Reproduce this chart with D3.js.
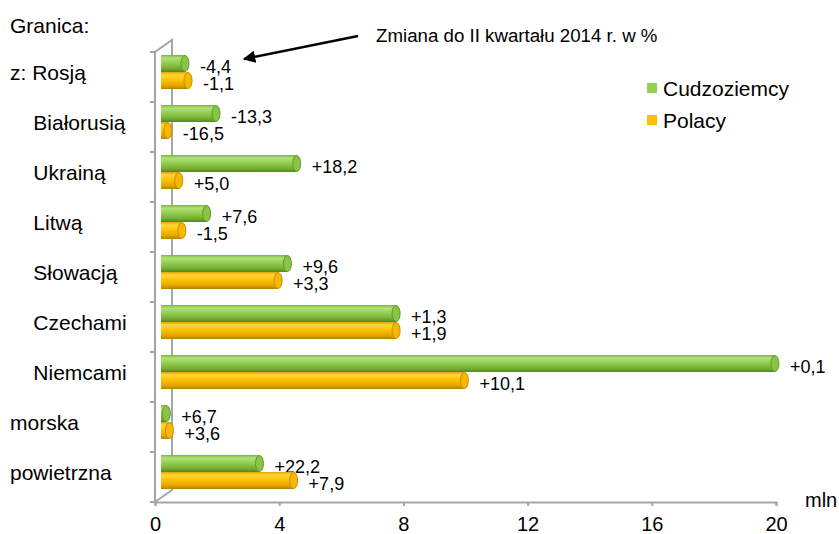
<!DOCTYPE html>
<html>
<head>
<meta charset="utf-8">
<script src="https://cdn.jsdelivr.net/npm/d3@7"></script>
<style>
  body { margin: 0; background: #fff; }
  text { font-family: "Liberation Sans", Arial, sans-serif; fill: #000; }
</style>
</head>
<body>
<div id="wrapper"></div>
<script>
// granice (etykiety z wcięciem jak w Excelu)
const categories = ["z: Rosją", "    Białorusią", "    Ukrainą", "    Litwą", "    Słowacją",
                    "    Czechami", "    Niemcami", "morska", "powietrzna"];
// mln osób
const foreigners = [0.9, 1.9, 4.5, 1.6, 4.2, 7.7, 19.9, 0.3, 3.3];
const poles      = [1.0, 0.35, 0.7, 0.8, 3.9, 7.7, 9.9, 0.4, 4.4];
// zmiana w %
const foreignersChange = [-4.4, -13.3, 18.2, 7.6, 9.6, 1.3, 0.1, 6.7, 22.2];
const polesChange      = [-1.1, -16.5, 5.0, -1.5, 3.3, 1.9, 10.1, 3.6, 7.9];
const xTicks = [0, 4, 8, 12, 16, 20];
const seriesNames = ["Cudzoziemcy", "Polacy"];

function buildPlot() {
    const width = 839, height = 534;
    const depth = { dx: 17, dy: -12 };
    const barShift = 6;

    const svg = d3.select("#wrapper").append("svg")
        .attr("width", width)
        .attr("height", height);

    const xScaler = d3.scaleLinear().domain([0, 20]).range([155, 776]);
    const yBand = d3.scaleBand().domain(categories).range([52, 502]);

    const defs = svg.append("defs");
    function grad(id, stops) {
        const g = defs.append("linearGradient").attr("id", id)
            .attr("x1", 0).attr("y1", 0).attr("x2", 0).attr("y2", 1);
        stops.forEach(s => g.append("stop").attr("offset", s[0]).attr("stop-color", s[1]));
    }
    grad("gGreen", [[0, "#7ab53c"], [0.18, "#b0e276"], [0.45, "#95cf54"], [0.8, "#74ad31"], [1, "#52891c"]]);
    grad("gYellow", [[0, "#e4a400"], [0.18, "#ffd640"], [0.45, "#ffc400"], [0.8, "#e3a400"], [1, "#b58200"]]);

    // ściany / osie
    const axisColor = "#a6a6a6";
    const x0 = xScaler(0), yTop = yBand.range()[0], yBot = yBand.range()[1];
    const walls = svg.append("g").attr("fill", "none").attr("stroke", axisColor).attr("stroke-width", 2);
    walls.append("path")
        .attr("d", `M${x0},${yTop} L${x0 + depth.dx},${yTop + depth.dy} L${x0 + depth.dx},${yBot + depth.dy} L${x0},${yBot}`);
    walls.append("line").attr("x1", x0).attr("x2", x0).attr("y1", yTop).attr("y2", yBot);
    walls.selectAll(".ytick")
        .data(categories.map(c => yBand(c)).concat([yBot]))
        .join("line")
        .attr("x1", x0 - 5).attr("x2", x0)
        .attr("y1", d => d).attr("y2", d => d);

    const xAxis = d3.axisBottom(xScaler)
        .tickValues(xTicks)
        .tickSize(4)
        .tickPadding(11)
        .tickFormat(d3.format("d"));
    const gx = svg.append("g")
        .attr("transform", `translate(0,${yBot})`)
        .call(xAxis);
    gx.select(".domain").attr("stroke", axisColor).attr("stroke-width", 2);
    gx.selectAll(".tick line").attr("stroke", axisColor).attr("stroke-width", 2);
    gx.selectAll(".tick text").style("font-size", "20px").attr("fill", "#000");

    // walce
    const barH = 17;
    const capRx = 4;
    const series = [
        { values: foreigners, change: foreignersChange, fill: "url(#gGreen)", cap: "#88c446", rim: "#64992a", off: 3 },
        { values: poles, change: polesChange, fill: "url(#gYellow)", cap: "#f5b800", rim: "#c69000", off: 20 }
    ];
    const fmt = v => (v >= 0 ? "+" : "-") + Math.abs(v).toFixed(1).replace(".", ",");

    series.forEach(s => {
        const g = svg.append("g");
        const items = categories.map((c, i) => ({ c, v: s.values[i], ch: s.change[i] }));
        const start = xScaler(0) + barShift;
        const endX = d => xScaler(d.v) + barShift;

        g.selectAll("rect")
            .data(items)
            .join("rect")
            .attr("x", start)
            .attr("y", d => yBand(d.c) + s.off)
            .attr("width", d => Math.max(0, endX(d) - capRx - start))
            .attr("height", barH)
            .attr("fill", s.fill);

        g.selectAll("ellipse")
            .data(items)
            .join("ellipse")
            .attr("cx", d => endX(d) - capRx)
            .attr("cy", d => yBand(d.c) + s.off + barH / 2)
            .attr("rx", capRx)
            .attr("ry", barH / 2 - 0.5)
            .attr("fill", s.cap)
            .attr("stroke", s.rim)
            .attr("stroke-width", 1);

        g.selectAll("text")
            .data(items)
            .join("text")
            .attr("x", d => endX(d) + 11)
            .attr("y", d => yBand(d.c) + s.off + barH / 2 + 3)
            .attr("dominant-baseline", "central")
            .style("font-size", "18px")
            .text(d => fmt(d.ch));
    });

    // etykiety kategorii
    svg.append("text").attr("x", 10).attr("y", 25)
        .attr("dominant-baseline", "central")
        .style("font-size", "21px")
        .text("Granica:");
    svg.append("g").selectAll("text")
        .data(categories)
        .join("text")
        .attr("x", 10)
        .attr("y", d => yBand(d) + 20)
        .attr("dominant-baseline", "central")
        .style("font-size", "21px")
        .style("white-space", "pre")
        .attr("xml:space", "preserve")
        .text(d => d);

    // legenda
    const legend = svg.append("g");
    const legColors = ["#92d050", "#ffc000"];
    seriesNames.forEach((n, i) => {
        legend.append("rect").attr("x", 647).attr("y", 83 + i * 32)
            .attr("width", 10).attr("height", 10).attr("fill", legColors[i]);
        legend.append("text").attr("x", 663).attr("y", 88 + i * 32)
            .attr("dominant-baseline", "central")
            .style("font-size", "21px")
            .text(n);
    });

    svg.append("text").attr("x", 805).attr("y", 500)
        .attr("dominant-baseline", "central")
        .style("font-size", "20px")
        .text("mln");

    // adnotacja ze strzałką
    defs.append("marker").attr("id", "arrow")
        .attr("viewBox", "0 0 10 10").attr("refX", 9).attr("refY", 5)
        .attr("markerWidth", 5).attr("markerHeight", 5).attr("orient", "auto")
        .append("path").attr("d", "M0,0 L10,5 L0,10 z").attr("fill", "#000");
    svg.append("line")
        .attr("x1", 358).attr("y1", 36).attr("x2", 244).attr("y2", 59)
        .attr("stroke", "#000").attr("stroke-width", 2.5)
        .attr("marker-end", "url(#arrow)");
    svg.append("text").attr("x", 376).attr("y", 35)
        .attr("dominant-baseline", "central")
        .style("font-size", "18.7px")
        .text("Zmiana do II kwartału 2014 r. w %");
}

buildPlot();
</script>
</body>
</html>
